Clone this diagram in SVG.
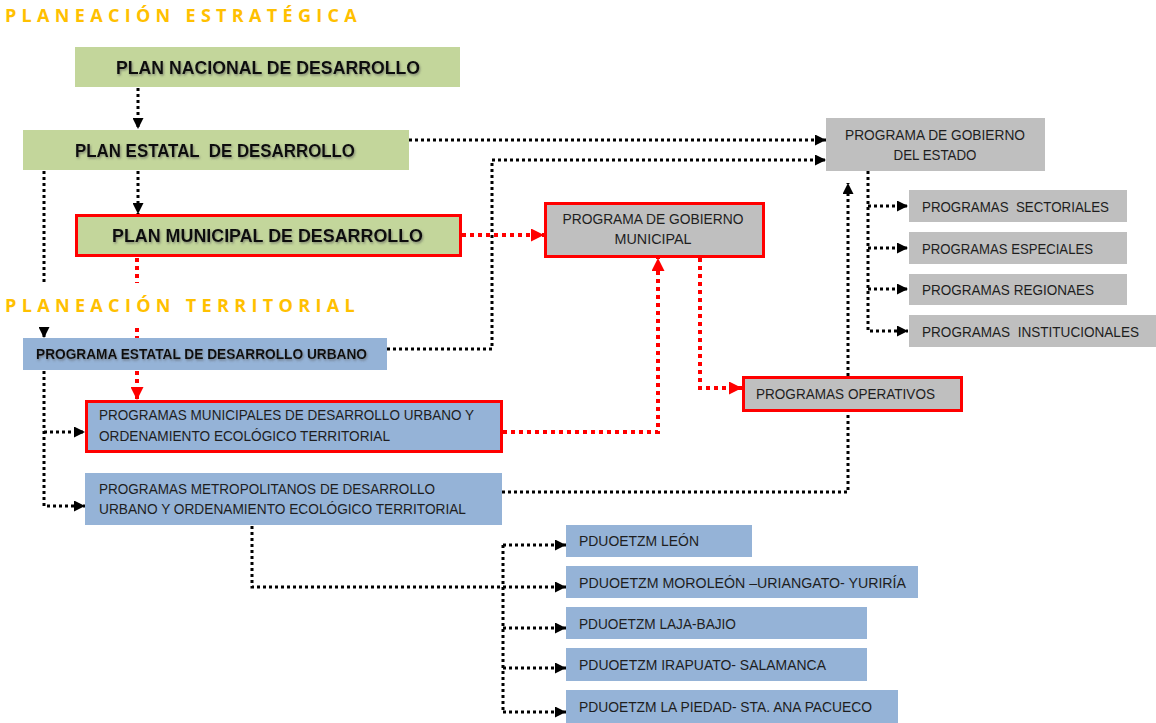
<svg xmlns="http://www.w3.org/2000/svg" width="1156" height="723" viewBox="0 0 1156 723">
<style>
.title{font-family:"Open Sans","Liberation Sans",sans-serif;font-weight:bold;font-size:17px;fill:#FFC000;letter-spacing:5px}
.hb{font-family:"Liberation Sans",Arial,sans-serif;font-weight:bold;font-size:18px;fill:#111}
.hs{font-family:"Liberation Sans",Arial,sans-serif;font-weight:bold;font-size:14px;fill:#111}
.t{font-family:"Liberation Sans",Arial,sans-serif;font-size:14.5px;fill:#1e1e1e}
.green{fill:#C3D69B}
.blue{fill:#95B3D7}
.gray{fill:#BFBFBF}
.red{stroke:#FF0000;stroke-width:3}
.cb{fill:none;stroke:#000;stroke-width:3;stroke-dasharray:3 3}
.cr{fill:none;stroke:#FF0000;stroke-width:4;stroke-dasharray:4 4}
</style>
<defs>
<marker id="ab" markerUnits="userSpaceOnUse" markerWidth="11" markerHeight="11" refX="10" refY="5" orient="auto" viewBox="0 0 10 10">
<path d="M0,0 L10,5 L0,10 z" fill="#000"/>
</marker>
<marker id="ar" markerUnits="userSpaceOnUse" markerWidth="13" markerHeight="13" refX="10" refY="5" orient="auto" viewBox="0 0 10 10">
<path d="M0,0 L10,5 L0,10 z" fill="#FF0000"/>
</marker>
<filter id="sh" x="-5%" y="-30%" width="110%" height="160%">
<feDropShadow dx="1" dy="1.5" stdDeviation="1.2" flood-color="#555" flood-opacity="0.6"/>
</filter>
</defs>
<rect width="1156" height="723" fill="#fff"/>

<text class="title" x="5" y="22" textLength="357" lengthAdjust="spacingAndGlyphs">PLANEACIÓN  ESTRATÉGICA</text>
<text class="title" x="5" y="312" textLength="355" lengthAdjust="spacingAndGlyphs">PLANEACIÓN  TERRITORIAL</text>

<g id="connectors">
<path class="cb" d="M138,88 V129" marker-end="url(#ab)"/>
<path class="cb" d="M138,171 V214" marker-end="url(#ab)"/>
<path class="cb" d="M409,140 H826" marker-end="url(#ab)"/>
<path class="cb" d="M387,349 H492 V160 H826" marker-end="url(#ab)"/>
<path class="cb" d="M44,171 V285"/>
<path class="cb" d="M44,328 V338" marker-end="url(#ab)"/>
<path class="cb" d="M44,371 V506 H85" marker-end="url(#ab)"/>
<path class="cb" d="M44,432 H85" marker-end="url(#ab)"/>
<path class="cb" d="M502,492 H848 V183" marker-end="url(#ab)"/>
<path class="cb" d="M868,171 V331 H908" marker-end="url(#ab)"/>
<path class="cb" d="M868,206 H908" marker-end="url(#ab)"/>
<path class="cb" d="M868,248 H908" marker-end="url(#ab)"/>
<path class="cb" d="M868,289 H908" marker-end="url(#ab)"/>
<path class="cb" d="M252,526 V587 H566" marker-end="url(#ab)"/>
<path class="cb" d="M503,545 V712"/>
<path class="cb" d="M503,545 H566" marker-end="url(#ab)"/>
<path class="cb" d="M503,628 H566" marker-end="url(#ab)"/>
<path class="cb" d="M503,668 H566" marker-end="url(#ab)"/>
<path class="cb" d="M503,712 H566" marker-end="url(#ab)"/>
<path class="cr" d="M462,235 H544" marker-end="url(#ar)"/>
<path class="cr" d="M137,258 V283"/>
<path class="cr" d="M137,328 V338"/>
<path class="cr" d="M137,371 V400" marker-end="url(#ar)"/>
<path class="cr" d="M503,432 H658 V258" marker-end="url(#ar)"/>
<path class="cr" d="M700,258 V388 H742" marker-end="url(#ar)"/>
</g>

<g id="n-nacional">
<rect class="green" x="75" y="47" width="385" height="40"/>
<text class="hb" x="116" y="74" textLength="304" lengthAdjust="spacingAndGlyphs" filter="url(#sh)">PLAN NACIONAL DE DESARROLLO</text>
</g>
<g id="n-estatal">
<rect class="green" x="23" y="130" width="386" height="40"/>
<text class="hb" x="75" y="157" textLength="280" lengthAdjust="spacingAndGlyphs" filter="url(#sh)" xml:space="preserve">PLAN ESTATAL  DE DESARROLLO</text>
</g>
<g id="n-municipal">
<rect class="green red" x="76.5" y="215.5" width="384" height="40"/>
<text class="hb" x="112" y="242" textLength="311" lengthAdjust="spacingAndGlyphs" filter="url(#sh)">PLAN MUNICIPAL DE DESARROLLO</text>
</g>
<g id="n-pge">
<rect class="gray" x="826" y="118" width="219" height="53"/>
<text class="t" x="935" y="140" text-anchor="middle" textLength="180" lengthAdjust="spacingAndGlyphs">PROGRAMA DE GOBIERNO</text>
<text class="t" x="935" y="160" text-anchor="middle" textLength="83" lengthAdjust="spacingAndGlyphs">DEL ESTADO</text>
</g>
<g id="n-sectoriales">
<rect class="gray" x="909" y="190" width="218" height="32"/>
<text class="t" x="922" y="212" textLength="187" lengthAdjust="spacingAndGlyphs" xml:space="preserve">PROGRAMAS  SECTORIALES</text>
</g>
<g id="n-especiales">
<rect class="gray" x="909" y="232" width="218" height="32"/>
<text class="t" x="922" y="254" textLength="171" lengthAdjust="spacingAndGlyphs">PROGRAMAS ESPECIALES</text>
</g>
<g id="n-regionales">
<rect class="gray" x="909" y="274" width="218" height="31"/>
<text class="t" x="922" y="295" textLength="172" lengthAdjust="spacingAndGlyphs">PROGRAMAS REGIONAES</text>
</g>
<g id="n-institucionales">
<rect class="gray" x="909" y="315" width="247" height="32"/>
<text class="t" x="922" y="337" textLength="217" lengthAdjust="spacingAndGlyphs" xml:space="preserve">PROGRAMAS  INSTITUCIONALES</text>
</g>
<g id="n-pgm">
<rect class="gray red" x="545.5" y="203.5" width="218" height="53"/>
<text class="t" x="653" y="224" text-anchor="middle" textLength="181" lengthAdjust="spacingAndGlyphs">PROGRAMA DE GOBIERNO</text>
<text class="t" x="653" y="244" text-anchor="middle" textLength="77" lengthAdjust="spacingAndGlyphs">MUNICIPAL</text>
</g>
<g id="n-operativos">
<rect class="gray red" x="743.5" y="377.5" width="218" height="33"/>
<text class="t" x="756" y="399" textLength="179" lengthAdjust="spacingAndGlyphs">PROGRAMAS OPERATIVOS</text>
</g>
<g id="n-pedu">
<rect class="blue" x="23" y="338" width="364" height="32"/>
<text class="hs" x="36" y="359" textLength="331" lengthAdjust="spacingAndGlyphs" filter="url(#sh)">PROGRAMA ESTATAL DE DESARROLLO URBANO</text>
</g>
<g id="n-pmdu">
<rect class="blue red" x="86.5" y="401.5" width="415" height="50"/>
<text class="t" x="99" y="420" textLength="375" lengthAdjust="spacingAndGlyphs">PROGRAMAS MUNICIPALES DE DESARROLLO URBANO Y</text>
<text class="t" x="99" y="441" textLength="291" lengthAdjust="spacingAndGlyphs">ORDENAMIENTO ECOLÓGICO TERRITORIAL</text>
</g>
<g id="n-metro">
<rect class="blue" x="85" y="473" width="417" height="52"/>
<text class="t" x="99" y="494" textLength="336" lengthAdjust="spacingAndGlyphs">PROGRAMAS METROPOLITANOS DE DESARROLLO</text>
<text class="t" x="99" y="514" textLength="367" lengthAdjust="spacingAndGlyphs">URBANO Y ORDENAMIENTO ECOLÓGICO TERRITORIAL</text>
</g>
<g id="n-leon">
<rect class="blue" x="566" y="525" width="186" height="32"/>
<text class="t" x="579" y="546" textLength="120" lengthAdjust="spacingAndGlyphs">PDUOETZM LEÓN</text>
</g>
<g id="n-moroleon">
<rect class="blue" x="566" y="566" width="352" height="32"/>
<text class="t" x="579" y="588" textLength="327" lengthAdjust="spacingAndGlyphs">PDUOETZM MOROLEÓN –URIANGATO- YURIRÍA</text>
</g>
<g id="n-laja">
<rect class="blue" x="566" y="607" width="301" height="32"/>
<text class="t" x="579" y="629" textLength="157" lengthAdjust="spacingAndGlyphs">PDUOETZM LAJA-BAJIO</text>
</g>
<g id="n-irapuato">
<rect class="blue" x="566" y="648" width="301" height="33"/>
<text class="t" x="579" y="670" textLength="247" lengthAdjust="spacingAndGlyphs">PDUOETZM IRAPUATO- SALAMANCA</text>
</g>
<g id="n-piedad">
<rect class="blue" x="566" y="690" width="332" height="33"/>
<text class="t" x="579" y="712" textLength="293" lengthAdjust="spacingAndGlyphs">PDUOETZM LA PIEDAD- STA. ANA PACUECO</text>
</g>
</svg>
